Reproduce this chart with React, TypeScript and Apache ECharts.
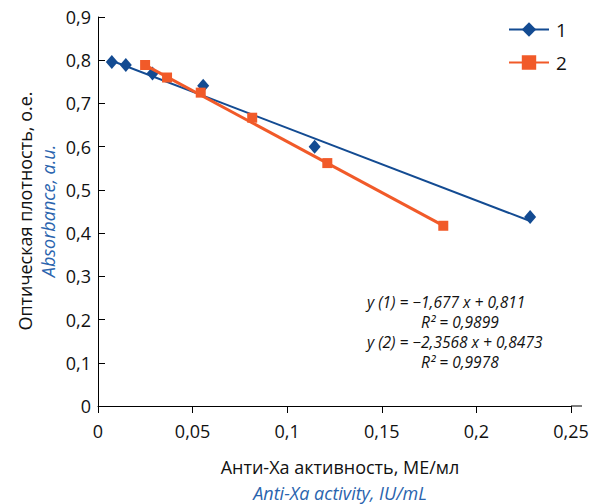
import React, { useEffect, useRef } from "react";
import * as echarts from "echarts";

// Series 1 (diamonds)
const x1 = [0.0073, 0.0147, 0.0288, 0.0556, 0.1145, 0.2284];
const y1 = [0.796, 0.789, 0.769, 0.741, 0.6, 0.4375];
// Series 2 (squares)
const x2 = [0.0249, 0.0365, 0.0543, 0.0815, 0.1212, 0.1825];
const y2 = [0.789, 0.76, 0.725, 0.667, 0.562, 0.417];

// Linear trendlines (from the chart's equations)
const slope1 = -1.677;
const intercept1 = 0.811;
const slope2 = -2.3568;
const intercept2 = 0.8473;

const seriesNames = ["1", "2"];
const eqLines = [
  "y (1) = \u22121,677 x + 0,811",
  "R\u00B2 = 0,9899",
  "y (2) = \u22122,3568 x + 0,8473",
  "R\u00B2 = 0,9978",
];
const yTitle = "Оптическая плотность, о.е.";
const yTitleEn = "Absorbance, a.u.";
const xTitle = "Анти-Ха активность, МЕ/мл";
const xTitleEn = "Anti-Xa activity, IU/mL";

const BLUE = "#134b92";
const ORANGE = "#f15a29";
const FONT = "'Open Sans', sans-serif";

const fmt = (v: number) => String(+v.toFixed(3)).replace(".", ",");

const trend = (xs: number[], a: number, b: number) => {
  const lo = Math.min(...xs);
  const hi = Math.max(...xs);
  return [
    [lo, a * lo + b],
    [hi, a * hi + b],
  ];
};

export default function App() {
  const ref = useRef<HTMLDivElement>(null);
  useEffect(() => {
    if (!ref.current) return;
    const chart = echarts.init(ref.current, null, { renderer: "svg" });
    chart.setOption({
      animation: false,
      textStyle: { fontFamily: FONT },
      grid: { left: 98, right: 21, top: 17, bottom: 98 },
      legend: {
        orient: "vertical",
        left: 503,
        top: 15,
        itemWidth: 40,
        itemHeight: 18,
        itemGap: 14,
        data: seriesNames,
        textStyle: { fontSize: 19, color: "#111", fontFamily: FONT, padding: [0, 0, 0, 2] },
      },
      xAxis: {
        type: "value",
        min: 0,
        max: 0.25,
        interval: 0.05,
        splitLine: { show: false },
        axisLine: { lineStyle: { color: "#000", width: 1 } },
        axisTick: { length: 7, lineStyle: { color: "#000" } },
        axisLabel: { color: "#111", fontSize: 18, margin: 16, formatter: fmt },
      },
      yAxis: {
        type: "value",
        min: 0,
        max: 0.9,
        interval: 0.1,
        splitLine: { show: false },
        axisLine: { show: true, lineStyle: { color: "#000", width: 1 } },
        axisTick: { show: true, inside: true, length: 7, lineStyle: { color: "#000" } },
        axisLabel: { color: "#111", fontSize: 18, margin: 7, formatter: fmt },
      },
      graphic: [
        { type: "line", shape: { x1: 571, y1: 406, x2: 582, y2: 406 }, style: { stroke: "#000", lineWidth: 1 } },
        {
          type: "text",
          x: 25,
          y: 211,
          rotation: Math.PI / 2,
          style: { text: yTitle, fill: "#111", font: `18px ${FONT}`, align: "center", verticalAlign: "middle" },
        },
        {
          type: "text",
          x: 48,
          y: 211,
          rotation: Math.PI / 2,
          style: { text: yTitleEn, fill: "#2a64ae", font: `italic 18px ${FONT}`, align: "center", verticalAlign: "middle" },
        },
        {
          type: "text",
          x: 340,
          y: 467,
          style: { text: xTitle, fill: "#111", font: `18px ${FONT}`, align: "center", verticalAlign: "middle" },
        },
        {
          type: "text",
          x: 340,
          y: 493,
          style: { text: xTitleEn, fill: "#2a64ae", font: `italic 18px ${FONT}`, align: "center", verticalAlign: "middle" },
        },
        ...eqLines.map((t, i) => ({
          type: "text",
          x: i % 2 === 0 ? 367 : 421,
          y: 302 + i * 20,
          style: { text: t, fill: "#111", font: `italic 15.5px ${FONT}`, align: "left", verticalAlign: "middle" },
        })),
      ],
      series: [
        {
          name: seriesNames[0],
          type: "line",
          data: trend(x1, slope1, intercept1),
          symbol: "diamond",
          showSymbol: false,
          itemStyle: { color: BLUE },
          lineStyle: { color: BLUE, width: 2 },
          z: 2,
        },
        {
          name: seriesNames[0],
          type: "scatter",
          data: x1.map((x, i) => [x, y1[i]]),
          symbol: "diamond",
          symbolSize: [12, 14],
          itemStyle: { color: BLUE, opacity: 1 },
          z: 3,
        },
        {
          name: seriesNames[1],
          type: "line",
          data: trend(x2, slope2, intercept2),
          symbol: "rect",
          showSymbol: false,
          itemStyle: { color: ORANGE },
          lineStyle: { color: ORANGE, width: 3 },
          z: 4,
        },
        {
          name: seriesNames[1],
          type: "scatter",
          data: x2.map((x, i) => [x, y2[i]]),
          symbol: "rect",
          symbolSize: 10,
          itemStyle: { color: ORANGE, opacity: 1 },
          z: 5,
        },
      ],
    });
    return () => chart.dispose();
  }, []);
  return <div ref={ref} style={{ position: "absolute", left: 0, top: 0, width: 592, height: 504 }} />;
}
